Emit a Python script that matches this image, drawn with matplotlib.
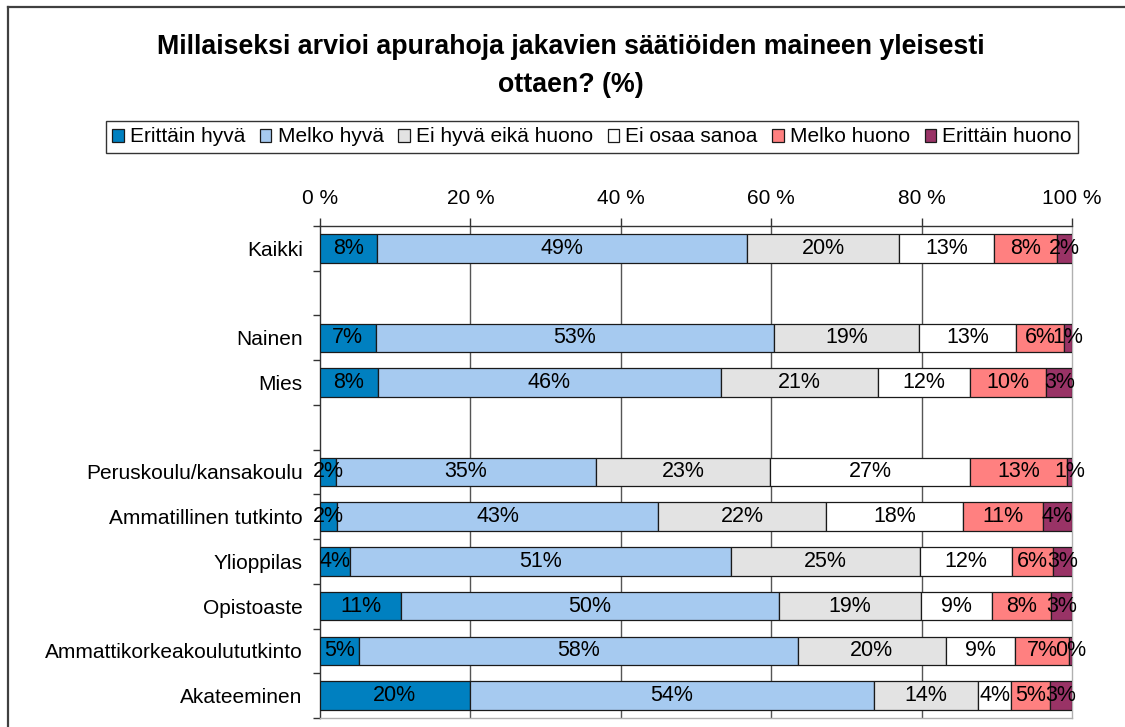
import matplotlib
matplotlib.use("Agg")
import matplotlib.pyplot as plt
from matplotlib.lines import Line2D
from matplotlib.patches import Patch
import numpy as np

plt.rcParams['font.family'] = ['Liberation Sans', 'DejaVu Sans']

title_line1 = "Millaiseksi arvioi apurahoja jakavien säätiöiden maineen yleisesti"
title_line2 = "ottaen? (%)"

categories = ["Kaikki", "", "Nainen", "Mies", "", "Peruskoulu/kansakoulu",
              "Ammatillinen tutkinto", "Ylioppilas", "Opistoaste",
              "Ammattikorkeakoulututkinto", "Akateeminen"]

series_names = ["Erittäin hyvä", "Melko hyvä", "Ei hyvä eikä huono",
                "Ei osaa sanoa", "Melko huono", "Erittäin huono"]

erittain_hyva      = [7.6, None, 7.4, 7.7, None, 2.1, 2.3, 4.0, 10.8, 5.2, 19.9]
melko_hyva         = [49.2, None, 53.0, 45.6, None, 34.6, 42.7, 50.6, 50.2, 58.3, 53.8]
ei_hyva_eika_huono = [20.2, None, 19.3, 20.9, None, 23.1, 22.3, 25.2, 18.9, 19.7, 13.8]
ei_osaa_sanoa      = [12.6, None, 12.9, 12.2, None, 26.7, 18.2, 12.2, 9.4, 9.2, 4.4]
melko_huono        = [8.4, None, 6.3, 10.2, None, 12.8, 10.6, 5.5, 7.9, 7.2, 5.2]
erittain_huono     = [2.1, None, 1.1, 3.4, None, 0.8, 3.9, 2.6, 2.8, 0.4, 2.9]

series_colors = ["#0080C0", "#A6CAF0", "#E3E3E3", "#FFFFFF", "#FF8080", "#993366"]

x_ticks = [0, 20, 40, 60, 80, 100]
x_tick_labels = ["0 %", "20 %", "40 %", "60 %", "80 %", "100 %"]

all_series = [erittain_hyva, melko_hyva, ei_hyva_eika_huono,
              ei_osaa_sanoa, melko_huono, erittain_huono]

FS = 15
W, H = 1125, 727
fig = plt.figure(figsize=(W / 100, H / 100), dpi=100)
ax = fig.add_axes([320 / W, 1 - 718 / H, 752 / W, 492 / H])

rows = [i for i, v in enumerate(erittain_hyva) if v is not None]
left = {i: 0.0 for i in rows}
for vals, color in zip(all_series, series_colors):
    ys = [i for i in rows]
    ws = [vals[i] for i in rows]
    ls = [left[i] for i in rows]
    ax.barh(ys, ws, left=ls, height=0.64, color=color, edgecolor="#1a1a1a",
            linewidth=0.9, zorder=3)
    for i in rows:
        ax.text(left[i] + vals[i] / 2, i, f"{vals[i]:.0f}%", ha="center",
                va="center", fontsize=FS + 0.5, color="black", zorder=4)
        left[i] += vals[i]

ax.set_xlim(0, 100)
ax.set_ylim(len(categories) - 0.5, -0.5)

ax.vlines(x_ticks[1:-1], -0.5, len(categories) - 0.5, colors="#555555",
          linewidth=1, zorder=1)

ax.xaxis.tick_top()
ax.set_xticks(x_ticks)
ax.set_xticklabels(x_tick_labels)
ax.tick_params(axis="x", direction="out", length=6, width=1, color="#333333",
               pad=7, labelsize=FS)

ax.set_yticks(range(len(categories)))
ax.set_yticklabels(categories)
ax.tick_params(axis="y", which="major", length=0, pad=12.5, labelsize=FS)
ax.set_yticks(np.arange(-0.5, len(categories), 1), minor=True)
ax.tick_params(axis="y", which="minor", direction="out", length=5, width=1,
               color="#333333")

ax.spines["left"].set_color("#333333")
ax.spines["top"].set_color("#333333")
ax.spines["right"].set_color("#b0b0b0")
ax.spines["bottom"].set_color("#b0b0b0")
for s in ax.spines.values():
    s.set_linewidth(1)

handles = [Patch(facecolor=c, edgecolor="#1a1a1a", linewidth=0.9) for c in series_colors]
fig.legend(handles, series_names, loc="center", bbox_to_anchor=(592 / W, 1 - 137 / H),
           ncol=6, frameon=True, fontsize=FS, handlelength=0.55, handleheight=0.6,
           handletextpad=0.3, columnspacing=0.7, borderpad=0.3, fancybox=False,
           edgecolor="#333333", framealpha=1)

fig.text(0.507, 1 - 47 / H, title_line1, ha="center", va="center", fontsize=19.3,
         fontweight="bold")
fig.text(0.507, 1 - 85 / H, title_line2, ha="center", va="center", fontsize=19.3,
         fontweight="bold")

fig.add_artist(Line2D([8 / W, 8 / W], [0, 1 - 7 / H], transform=fig.transFigure,
                      color="#404040", lw=1.6))
fig.add_artist(Line2D([8 / W, 1], [1 - 7 / H, 1 - 7 / H], transform=fig.transFigure,
                      color="#404040", lw=1.6))

fig.savefig("out.png", dpi=100)
